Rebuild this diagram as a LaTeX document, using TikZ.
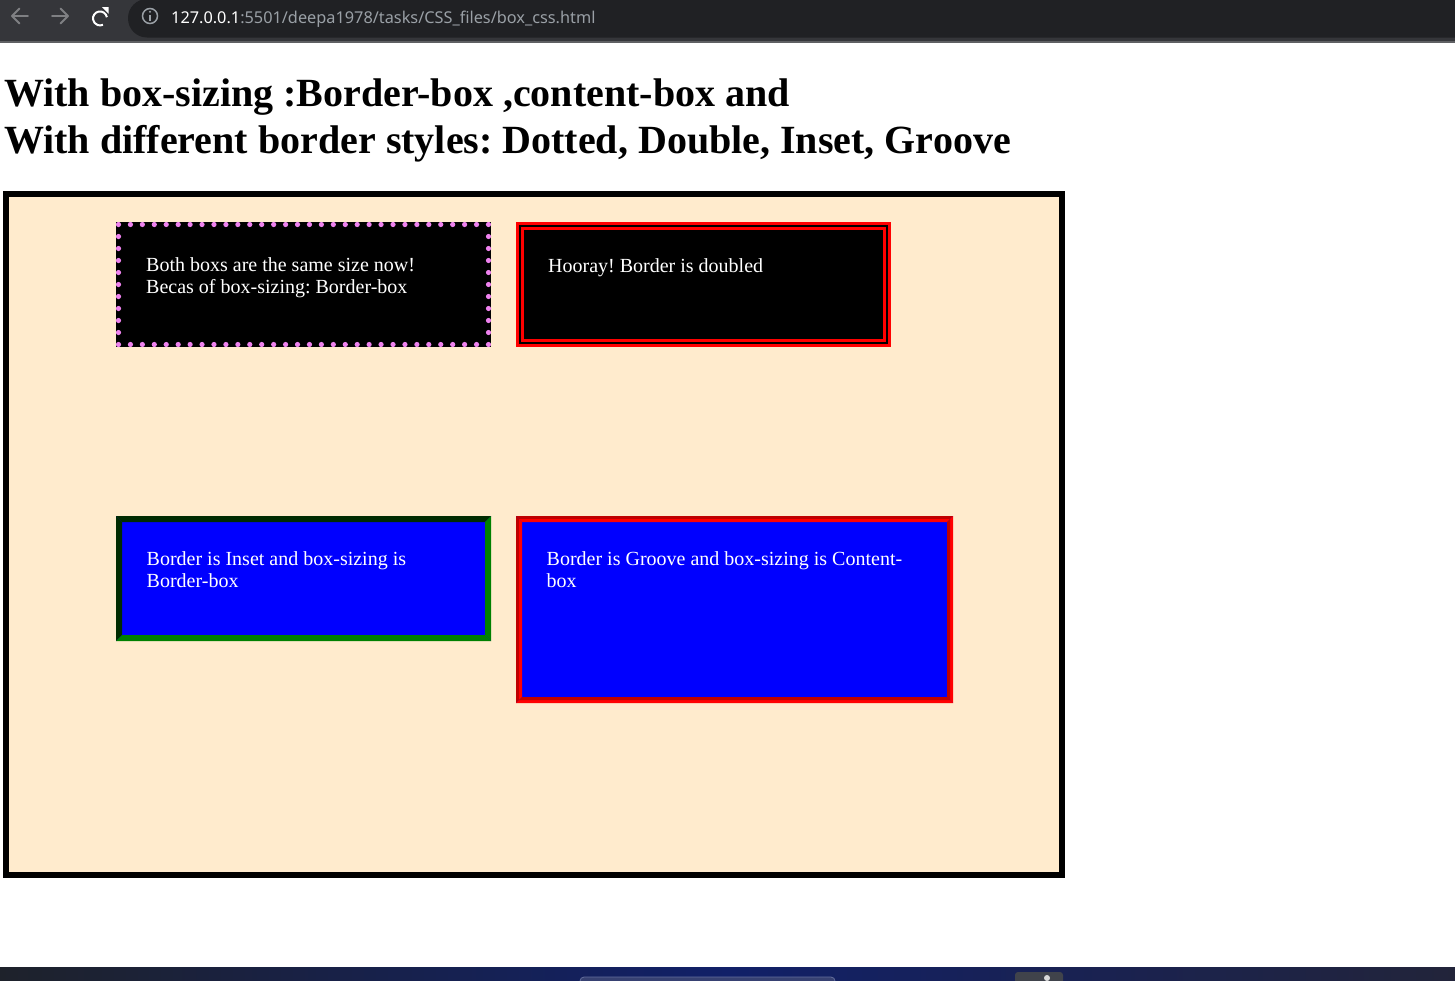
\documentclass[tikz,border=0pt]{standalone}
\usepackage{fontspec}
\setmainfont{Liberation Serif}
\newfontfamily\uifont{Noto Sans}
\frenchspacing
\definecolor{toolbar}{HTML}{35363A}
\definecolor{omnibox}{HTML}{202124}
\definecolor{tbline}{HTML}{5F6063}
\definecolor{icongrey}{HTML}{7F8083}
\definecolor{urlgrey}{HTML}{9AA0A6}
\definecolor{almond}{HTML}{FFEBCD}
\definecolor{dotviolet}{HTML}{EE82EE}
\definecolor{cssred}{HTML}{FF0000}
\definecolor{darkred}{HTML}{BF0000}
\definecolor{cssblue}{HTML}{0000FF}
\definecolor{cssgreen}{HTML}{008000}
\definecolor{darkgreen}{HTML}{002B00}
\definecolor{taskleft}{HTML}{1E222B}
\definecolor{taskmid}{HTML}{112068}
\definecolor{taskright}{HTML}{22243A}
\tikzset{
  headtext/.style={anchor=base west, inner sep=0pt, font=\fontsize{40}{46}\selectfont\bfseries},
  boxtext/.style={anchor=base west, inner sep=0pt, text=white, align=left, font=\fontsize{20}{22.5}\selectfont},
  navicon/.style={line width=1.8pt, line cap=round, line join=round},
}
\begin{document}
\begin{tikzpicture}[x=1pt,y=-1pt]
\useasboundingbox (0,0) rectangle (1455,980);
\fill[white] (0,0) rectangle (1455,980);
% ---- browser toolbar
\fill[toolbar] (0,0) rectangle (1455,40.5);
\fill[tbline] (0,40.5) rectangle (1455,43);
\fill[omnibox, rounded corners=19pt] (128,-1) rectangle (1520,37.5);
% back / forward / reload / info
\draw[navicon, icongrey] (28,16) -- (12,16);
\draw[navicon, icongrey] (19.5,8.5) -- (12,16) -- (19.5,23.5);
\draw[navicon, icongrey] (52,16) -- (68,16);
\draw[navicon, icongrey] (60.5,8.5) -- (68,16) -- (60.5,23.5);
\coordinate (rl) at (100,16);
\draw[line width=2pt, white] (rl) ++(10:7) arc[start angle=10, end angle=295, radius=7pt];
\fill[white] (101.8,7) -- (108.6,7) -- (108.6,13.8) -- cycle;
\coordinate (ic) at (150,16);
\draw[urlgrey, line width=1.5pt] (ic) circle[radius=7.5pt];
\fill[urlgrey] (149.1,15) rectangle (150.9,21);
\fill[urlgrey] (150,11.8) circle[radius=1.1pt];
\node[anchor=base west, inner sep=0pt, font=\uifont\fontsize{16.3}{18}\selectfont] (url) at (171,23)
  {\textcolor{white}{127.0.0.1}\textcolor{urlgrey}{:5501/deepa1978/tasks/CSS\_files/box\_css.html}};
% ---- heading
\node[headtext] (h1) at (4,106.7) {With box-sizing :Border-box ,content-box and};
\node[headtext] (h2) at (4,153) {With different border styles: Dotted, Double, Inset, Groove};
% ---- container
\fill[black] (3,191) rectangle (1065,878);
\fill[almond] (9,197) rectangle (1059,872);
% ---- box 1: dotted violet, black
\fill[black] (116,222) rectangle (491,347);
\foreach \i in {0,...,31} {
  \fill[dotviolet] (118.5+\i*11.935,224.5) circle[radius=2.6pt];
  \fill[dotviolet] (118.5+\i*11.935,344.5) circle[radius=2.6pt];
}
\foreach \j in {1,...,9} {
  \fill[dotviolet] (118.5,224.5+\j*12) circle[radius=2.6pt];
  \fill[dotviolet] (488.5,224.5+\j*12) circle[radius=2.6pt];
}
\node[boxtext] (t1) at (146,293.5) {Both boxs are the same size now!\\Becas of box-sizing: Border-box};
% ---- box 2: double red, black
\fill[cssred] (516,222) rectangle (891,347);
\fill[black] (519,225) rectangle (888,344);
\fill[cssred] (521.3,227.3) rectangle (885.7,341.7);
\fill[black] (524,230) rectangle (883,339);
\node[boxtext] (t2) at (548,272.7) {Hooray! Border is doubled};
% ---- box 3: inset green, blue
\fill[cssblue] (116,516) rectangle (491,641);
\fill[darkgreen] (116,516) -- (491,516) -- (485,522) -- (122,522) -- cycle;
\fill[darkgreen] (116,516) -- (122,522) -- (122,635) -- (116,641) -- cycle;
\fill[cssgreen] (491,516) -- (491,641) -- (485,635) -- (485,522) -- cycle;
\fill[cssgreen] (116,641) -- (491,641) -- (485,635) -- (122,635) -- cycle;
\node[boxtext] (t3) at (146.5,587.5) {Border is Inset and box-sizing is\\Border-box};
% ---- box 4: groove red, blue
\fill[cssblue] (516,516) rectangle (953,703);
\fill[darkred] (516,516) -- (953,516) -- (950,519) -- (519,519) -- cycle;
\fill[darkred] (516,516) -- (519,519) -- (519,700) -- (516,703) -- cycle;
\fill[cssred] (953,516) -- (953,703) -- (950,700) -- (950,519) -- cycle;
\fill[cssred] (516,703) -- (953,703) -- (950,700) -- (519,700) -- cycle;
\fill[cssred] (519,519) -- (950,519) -- (947,522) -- (522,522) -- cycle;
\fill[cssred] (519,519) -- (522,522) -- (522,697) -- (519,700) -- cycle;
\fill[darkred] (950,519) -- (950,700) -- (947,697) -- (947,522) -- cycle;
\fill[darkred] (519,700) -- (950,700) -- (947,697) -- (522,697) -- cycle;
\node[boxtext] (t4) at (546.5,587.5) {Border is Groove and box-sizing is Content-\\box};
% ---- taskbar
\shade[left color=taskleft, right color=taskright, middle color=taskmid] (0,967) rectangle (1455,980);
\draw[fill=taskmid!80!white!85!black, draw=white!35!taskmid, line width=0.8pt, rounded corners=4pt] (580,985) -- (580,977) -- (835,977) -- (835,985);
\fill[white!15!taskleft, rounded corners=3pt] (1015,972) rectangle (1063,986);
\fill[white!85!black] (1047,978) circle[radius=3pt];
\end{tikzpicture}
\end{document}
